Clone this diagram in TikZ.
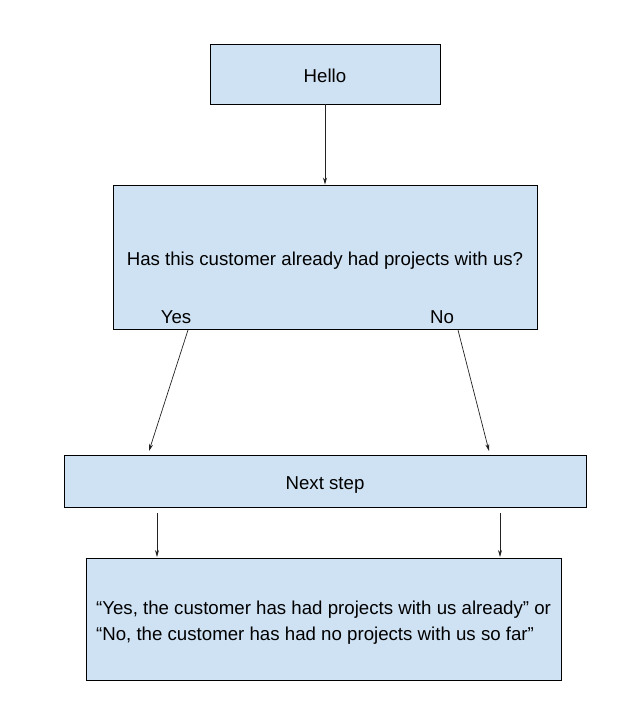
\documentclass[tikz,border=0pt]{standalone}
\usepackage{fontspec}
\setmainfont{Liberation Sans}
\usetikzlibrary{arrows.meta}
\definecolor{boxfill}{HTML}{CFE2F3}
\definecolor{arrowcol}{HTML}{222222}
\tikzset{
  box/.style={draw=black, line width=0.9pt, fill=boxfill, inner sep=0pt,
    text height=20pt, text depth=4pt,
    font=\fontsize{18.67}{26}\selectfont},
  lbl/.style={inner sep=0pt, text height=20pt, text depth=4pt,
    font=\fontsize{18.67}{22}\selectfont},
  conn/.style={draw=arrowcol, line width=0.7pt, -{Stealth[length=7pt,width=4pt]}}
}
\begin{document}
\begin{tikzpicture}[x=1pt,y=-1pt]
\useasboundingbox (0,0) rectangle (627,725);
\node[box, minimum width=230pt, minimum height=60pt] (hello) at (325,74) {Hello};
\node[box, minimum width=424pt, minimum height=144pt] (q) at (325,257) {};
\node[lbl] (qt) at (325,257) {Has this customer already had projects with us?};
\node[lbl] (yes) at (176,315) {Yes};
\node[lbl] (no) at (442,315) {No};
\node[box, minimum width=522pt, minimum height=52pt] (next) at (325,481) {Next step};
\node[box, minimum width=475pt, minimum height=122pt, align=left,
  text height=46pt, text depth=4pt] (final) at (323.5,619)
  {“Yes, the customer has had projects with us already” or\\“No, the customer has had no projects with us so far”};
\coordinate (ys) at (188,330);
\coordinate (ye) at (149,451);
\coordinate (ns) at (458,330);
\coordinate (ne) at (489,451);
\coordinate (l1s) at (157,513);
\coordinate (l1e) at (157,557);
\coordinate (l2s) at (500,513);
\coordinate (l2e) at (500,557);
\draw[conn] (hello.south) -- (q.north);
\draw[conn] (ys) -- (ye);
\draw[conn] (ns) -- (ne);
\draw[conn] (l1s) -- (l1e);
\draw[conn] (l2s) -- (l2e);
\end{tikzpicture}
\end{document}
